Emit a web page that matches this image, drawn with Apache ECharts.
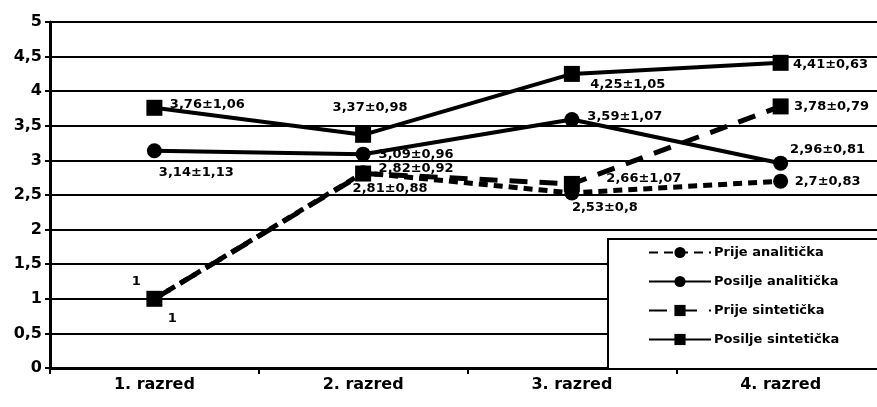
<!DOCTYPE html>
<html>
<head>
<meta charset="utf-8">
<script src="https://cdn.jsdelivr.net/npm/echarts@6/dist/echarts.min.js"></script>
<style>
  html, body { margin: 0; padding: 0; background: #fff; }
  #chart { width: 877px; height: 407px; }
</style>
</head>
<body>
<div id="chart"></div>
<script>
// kategorije i vrijednosti
const categories = ['1. razred', '2. razred', '3. razred', '4. razred']
const seriesNames = ['Prije analitička', 'Posilje analitička', 'Prije sintetička', 'Posilje sintetička']

const prijeAnaliticka = [1, 2.82, 2.53, 2.7]
const prijeAnalitickaSd = [null, 0.92, 0.8, 0.83]
const posiljeAnaliticka = [3.14, 3.09, 3.59, 2.96]
const posiljeAnalitickaSd = [1.13, 0.96, 1.07, 0.81]
const prijeSinteticka = [1, 2.81, 2.66, 3.78]
const prijeSintetickaSd = [null, 0.88, 1.07, 0.79]
const posiljeSinteticka = [3.76, 3.37, 4.25, 4.41]
const posiljeSintetickaSd = [1.06, 0.98, 1.05, 0.63]

// pomaci oznaka (px od tocke)
const labelOffsets = [
  [[-18, -17], [53, -4], [33, 15], [47, 0]],
  [[42, 22], [53, 0], [53, -3], [47, -14]],
  [[18, 20], [27, 15], [72, -5], [51, 0]],
  [[53, -3], [7, -27], [56, 11], [50, 2]]
]

const FONT = 'DejaVu Sans'
const comma = v => String(v).replace('.', ',')

function buildData (values, sds, offsets) {
  return values.map((v, i) => ({
    value: v,
    label: {
      offset: offsets[i],
      formatter: () => (sds[i] == null ? comma(v) : comma(v) + '±' + comma(sds[i]))
    }
  }))
}

function lineSeries (name, values, sds, offsets, symbol, dash) {
  return {
    name,
    type: 'line',
    data: buildData(values, sds, offsets),
    symbol,
    symbolSize: symbol === 'rect' ? 16 : 15,
    itemStyle: { color: '#000' },
    lineStyle: { color: '#000', width: dash ? 5 : 4, type: dash || 'solid' },
    label: {
      show: true,
      position: 'inside',
      align: 'center',
      verticalAlign: 'middle',
      color: '#000',
      fontFamily: FONT,
      fontWeight: 'bold',
      fontSize: 13
    },
    emphasis: { disabled: true },
    animation: false
  }
}

const chart = echarts.init(document.getElementById('chart'), null, { renderer: 'canvas' })

chart.setOption({
  backgroundColor: '#fff',
  animation: false,
  // desni rub grafa je odrezan na slici
  grid: { left: 50, width: 835, top: 22, bottom: 39, outerBoundsMode: 'none' },
  xAxis: {
    type: 'category',
    data: categories,
    boundaryGap: true,
    axisLine: { lineStyle: { color: '#000', width: 3 } },
    axisTick: { show: true, length: 6, lineStyle: { color: '#000', width: 2 } },
    axisLabel: { color: '#000', fontFamily: FONT, fontWeight: 'bold', fontSize: 16, margin: 9 }
  },
  yAxis: {
    type: 'value',
    min: 0,
    max: 5,
    interval: 0.5,
    axisLine: { show: true, lineStyle: { color: '#000', width: 3 } },
    axisTick: { show: true, length: 5, lineStyle: { color: '#000', width: 2 } },
    splitLine: { lineStyle: { color: '#000', width: 2 } },
    axisLabel: { color: '#000', fontFamily: FONT, fontWeight: 'bold', fontSize: 16, margin: 8, formatter: v => comma(v) }
  },
  graphic: [{
    type: 'rect',
    left: 607,
    top: 238,
    z: 10,
    shape: { width: 280, height: 130 },
    style: { fill: '#fff', stroke: '#000', lineWidth: 2 }
  }],
  legend: {
    data: seriesNames,
    orient: 'vertical',
    left: 648,
    top: 246,
    z: 20,
    padding: 0,
    itemWidth: 62,
    itemHeight: 14,
    itemGap: 16,
    textStyle: { color: '#000', fontFamily: FONT, fontWeight: 'bold', fontSize: 13, padding: [0, 0, 0, -2] }
  },
  series: [
    lineSeries(seriesNames[0], prijeAnaliticka, prijeAnalitickaSd, labelOffsets[0], 'circle', [9, 6]),
    lineSeries(seriesNames[1], posiljeAnaliticka, posiljeAnalitickaSd, labelOffsets[1], 'circle', null),
    lineSeries(seriesNames[2], prijeSinteticka, prijeSintetickaSd, labelOffsets[2], 'rect', [18, 12]),
    lineSeries(seriesNames[3], posiljeSinteticka, posiljeSintetickaSd, labelOffsets[3], 'rect', null)
  ]
})
</script>
</body>
</html>
